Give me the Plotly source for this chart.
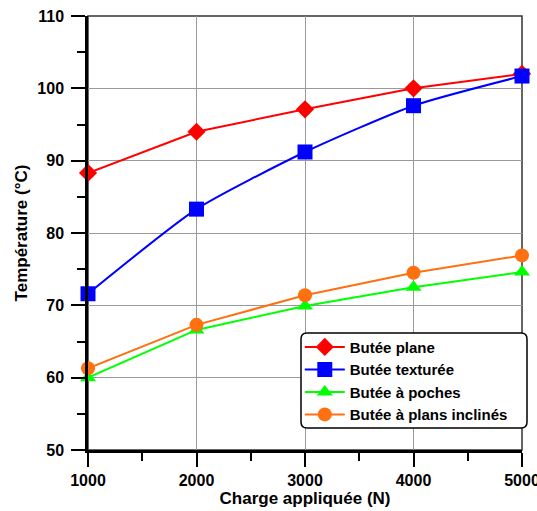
import plotly.graph_objects as go

charge = [1000, 2000, 3000, 4000, 5000]
plane = [88.3, 94.0, 97.1, 100.0, 102.0]
texturee = [71.6, 83.3, 91.2, 97.6, 101.7]
poches = [60.0, 66.6, 69.9, 72.5, 74.6]
inclines = [61.3, 67.3, 71.4, 74.5, 76.9]

FONT = "Liberation Sans, Arial, sans-serif"

fig = go.Figure()
series = [
    ("Butée plane", plane, "#ff0000", "diamond", 14, "linear"),
    ("Butée texturée", texturee, "#0000ff", "square", 15, "spline"),
    ("Butée à poches", poches, "#00ff00", "triangle-up", 14, "linear"),
    ("Butée à plans inclinés", inclines, "#ff7010", "circle", 14, "linear"),
]
for name, ys, col, sym, sz, shape in series:
    fig.add_trace(go.Scatter(
        x=charge, y=ys, name=name, mode="lines+markers",
        line=dict(color=col, width=2, shape=shape, smoothing=0.6),
        marker=dict(symbol=sym, size=sz, color=col),
        cliponaxis=False,
    ))

fig.add_shape(type="rect", xref="paper", yref="paper", x0=0, y0=0, x1=1, y1=1,
              line=dict(color="#333333", width=1.5), layer="below")
# rounded legend box (paper coords; plot area 434 x 434 px)
PW, PH = 434.0, 434.0
x0, x1 = (301 - 88) / PW, (527 - 88) / PW
y0, y1 = (450 - 428) / PH, (450 - 333) / PH
rx, ry = 6 / PW, 6 / PH
path = (f"M {x0+rx},{y1} L {x1-rx},{y1} Q {x1},{y1} {x1},{y1-ry} "
        f"L {x1},{y0+ry} Q {x1},{y0} {x1-rx},{y0} L {x0+rx},{y0} "
        f"Q {x0},{y0} {x0},{y0+ry} L {x0},{y1-ry} Q {x0},{y1} {x0+rx},{y1} Z")
fig.add_shape(type="path", xref="paper", yref="paper", path=path,
              fillcolor="white", line=dict(color="black", width=1.5), layer="above")

fig.update_layout(
    width=537, height=511,
    margin=dict(l=88, r=15, t=16, b=61, autoexpand=False),
    paper_bgcolor="white", plot_bgcolor="white",
    font=dict(family=FONT, color="black"),
    showlegend=True,
    legend=dict(x=0.488, y=0.275, xanchor="left", yanchor="top",
                bgcolor="rgba(0,0,0,0)", borderwidth=0,
                font=dict(family=FONT, size=15, weight="bold"),
                tracegroupgap=0, itemwidth=40),
)
fig.update_xaxes(
    range=[1000, 5000], tickvals=charge, ticktext=[str(c) for c in charge],
    automargin=False, ticklabeloverflow="allow",
    showgrid=True, gridcolor="#999999", gridwidth=1,
    showline=True, linecolor="black", linewidth=2.5,
    ticks="outside", ticklen=14, tickwidth=2, tickcolor="black",
    minor=dict(dtick=500, ticks="outside", ticklen=8, tickwidth=2, tickcolor="black", showgrid=False),
    tickfont=dict(family=FONT, size=16, weight="bold"),
    title=dict(text="Charge appliquée (N)", font=dict(family=FONT, size=17, weight="bold"), standoff=2),
    zeroline=False,
)
fig.update_yaxes(
    range=[50, 110], tickvals=[50, 60, 70, 80, 90, 100, 110],
    automargin=False, ticklabeloverflow="allow", ticklabelstandoff=4,
    showgrid=True, gridcolor="#999999", gridwidth=1,
    showline=True, linecolor="black", linewidth=2.5,
    ticks="outside", ticklen=14, tickwidth=2, tickcolor="black",
    minor=dict(dtick=5, ticks="outside", ticklen=8, tickwidth=2, tickcolor="black", showgrid=False),
    tickfont=dict(family=FONT, size=16, weight="bold"),
    title=dict(text="Température (°C)", font=dict(family=FONT, size=17, weight="bold"), standoff=6),
    zeroline=False,
)
fig.write_html("out.html", config={"displayModeBar": False},
               post_script="document.body.style.margin='0';document.body.style.padding='0';")
